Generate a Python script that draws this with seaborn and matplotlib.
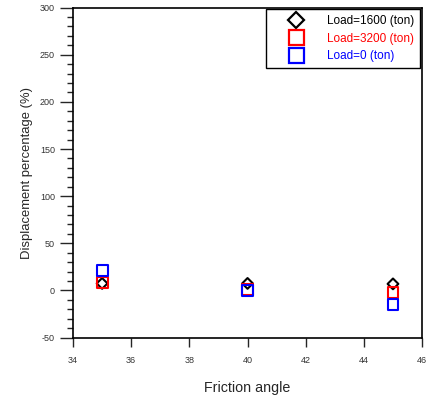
import matplotlib
matplotlib.use("Agg")
import matplotlib.pyplot as plt
from matplotlib.lines import Line2D
from matplotlib.ticker import MultipleLocator
import seaborn as sns
import pandas as pd

friction_angle = [35, 40, 45]
load_1600 = [7.5, 7.5, 7.0]
load_3200 = [8.5, 1.5, -2.0]
load_0 = [21.0, -0.5, -14.5]

series_names = ["Load=1600 (ton)", "Load=3200 (ton)", "Load=0 (ton)"]
series_values = [load_1600, load_3200, load_0]
colors = ["black", "#ff0000", "#0000ff"]
markers = ["D", "s", "s"]
sizes = [30, 62, 62]

sns.set_style("white")
plt.rcParams["font.family"] = ["Liberation Sans", "DejaVu Sans"]
plt.rcParams["axes.unicode_minus"] = False

fig = plt.figure(figsize=(4.32, 4.01), dpi=100)
ax = fig.add_axes([0.169, 0.158, 0.808, 0.823])

rows = []
for name, vals in zip(series_names, series_values):
    for x, y in zip(friction_angle, vals):
        rows.append({"angle": x, "disp": y, "series": name})
df = pd.DataFrame(rows)

for name, c, m, s in zip(series_names, colors, markers, sizes):
    sub = df[df["series"] == name]
    sns.scatterplot(data=sub, x="angle", y="disp", ax=ax, marker=m, s=s,
                    facecolors="none", edgecolor=c, linewidth=1.5, zorder=3)

ax.set_xlim(34, 46)
ax.set_ylim(-50, 300)
ax.xaxis.set_major_locator(MultipleLocator(2))
ax.yaxis.set_major_locator(MultipleLocator(50))
ax.yaxis.set_minor_locator(MultipleLocator(10))
ax.tick_params(axis="y", which="major", direction="out", length=9.5, width=1, labelsize=6.5,
               pad=3.5, left=True, labelcolor="#333333")
ax.tick_params(axis="y", which="minor", direction="out", length=4.5, width=1, left=True)
ax.tick_params(axis="x", which="major", direction="out", length=6.5, width=1, labelsize=6.5,
               pad=6.5, bottom=True, labelcolor="#333333")
for sp in ax.spines.values():
    sp.set_color("black")
    sp.set_linewidth(1.2)

ax.set_xlabel("Friction angle", fontsize=10.3, labelpad=12)
ax.set_ylabel("Displacement percentage (%)", fontsize=9.4, labelpad=5)

handles = [Line2D([], [], linestyle="none", marker=m, markersize=(8.0 if m == "D" else 10.8),
                  markerfacecolor="none", markeredgecolor=c, markeredgewidth=1.6)
           for m, c in zip(markers, colors)]
leg = ax.legend(handles, series_names, loc="upper right", fontsize=8.5, frameon=True,
                fancybox=False, edgecolor="black", framealpha=1, borderpad=0.5,
                handlelength=4.2, handletextpad=0.5, labelspacing=0.45,
                borderaxespad=0.15)
leg.get_frame().set_linewidth(1.0)
for t, c in zip(leg.get_texts(), colors):
    t.set_color(c)

fig.savefig("out.png", dpi=100)
